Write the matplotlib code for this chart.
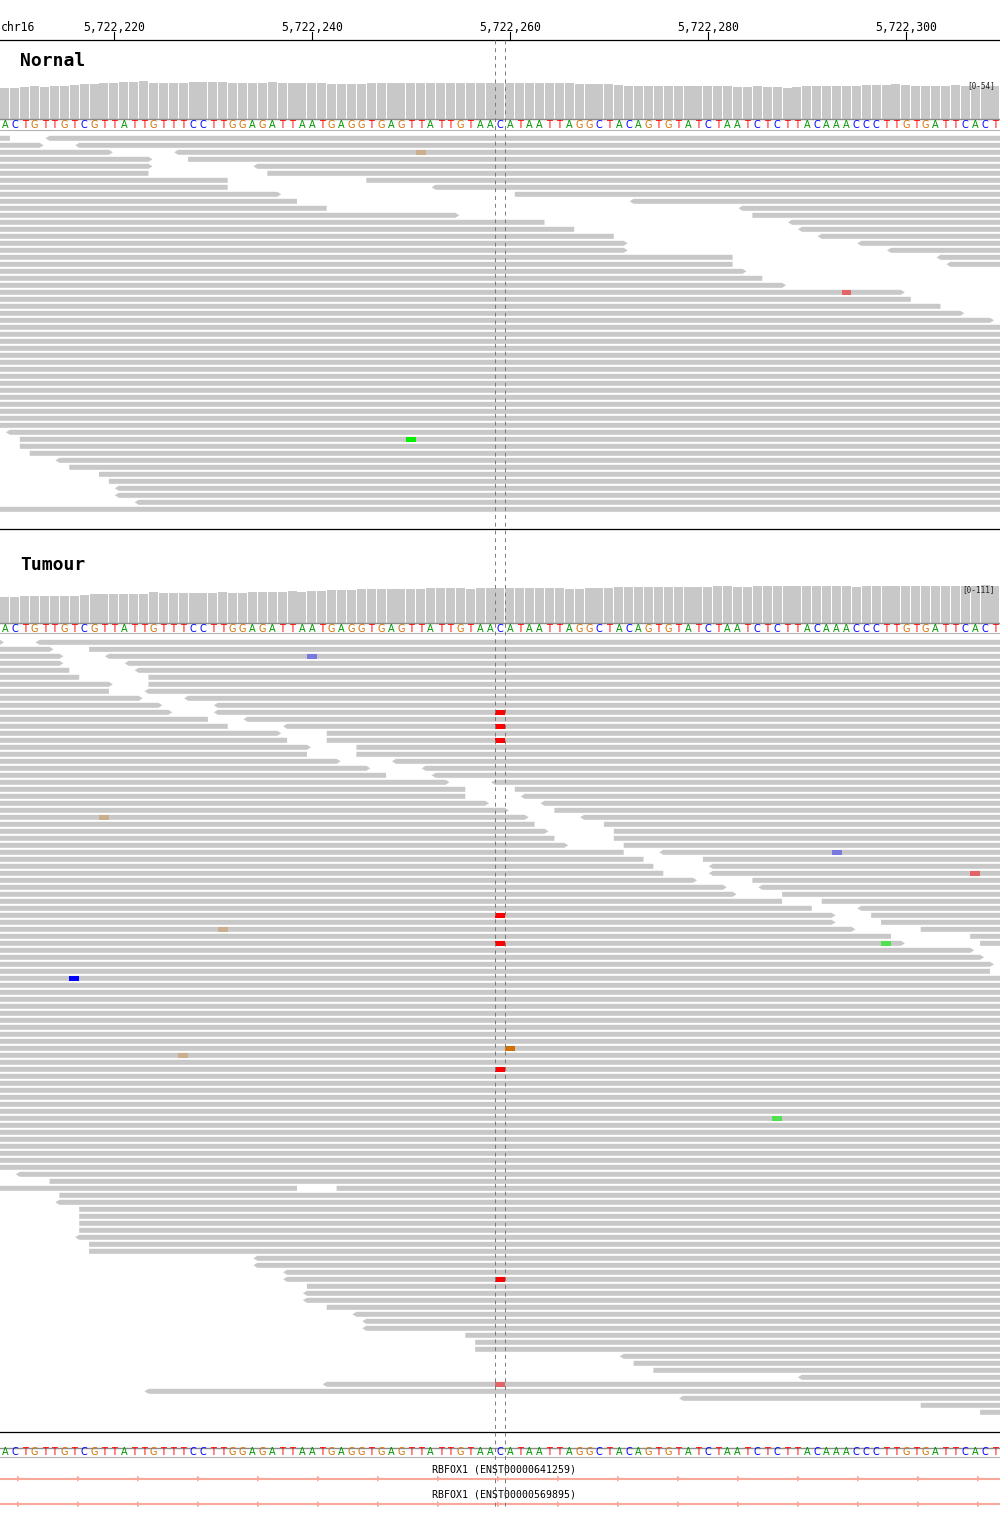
import matplotlib
matplotlib.use('Agg')
import matplotlib.pyplot as plt
from matplotlib.patches import Polygon
from matplotlib.collections import PatchCollection
from matplotlib.colors import to_rgb
import numpy as np

# ---------------------------------------------------------------- data
CHROM = 'chr16'
VIEW_START = 5722209          # genomic position of the first base in view
REF_SEQ = ('ACTGTTGTCGTTATTGTTTCCTTGGAGATTAATGAGGTGAGTTATTGTAAC'
           'ATAATTAGGCTACAGTGTATCTAATCTCTTACAAACCCTTGTGATTCACT')
TICK_POSITIONS = [5722220, 5722240, 5722260, 5722280, 5722300]
CENTER_POS = 5722259          # base framed by the dashed centre lines

NORMAL_LABEL = 'Nornal'
TUMOUR_LABEL = 'Tumour'
NORMAL_RANGE = 54
TUMOUR_RANGE = 111
GENE_NAMES = ['RBFOX1 (ENST00000641259)', 'RBFOX1 (ENST00000569895)']

# reads: one list per packed row; (first base offset, end offset (excl.), strand)
# offsets are relative to VIEW_START; -40 / 141 = read continues off-screen
L, R = -40, 141
FULL = [(L, R, '+')]
NORMAL_ROWS = [
    [(L, 1, '-'), (5, R, '-')],
    [(L, 4, '+'), (8, R, '-')],
    [(L, 11, '+'), (18, R, '-')],
    [(L, 15, '+'), (19, R, '+')],
    [(L, 15, '+'), (26, R, '-')],
    [(L, 15, '-'), (27, R, '+')],
    [(L, 23, '-'), (37, R, '+')],
    [(L, 23, '-'), (44, R, '-')],
    [(L, 28, '+'), (52, R, '+')],
    [(L, 30, '-'), (64, R, '-')],
    [(L, 33, '-'), (75, R, '-')],
    [(L, 46, '+'), (76, R, '+')],
    [(L, 55, '-'), (80, R, '-')],
    [(L, 58, '-'), (81, R, '-')],
    [(L, 62, '-'), (83, R, '-')],
    [(L, 63, '+'), (87, R, '-')],
    [(L, 63, '+'), (90, R, '-')],
    [(L, 74, '-'), (95, R, '-')],
    [(L, 74, '-'), (96, R, '-')],
    [(L, 75, '+')],
    [(L, 77, '-')],
    [(L, 79, '+')],
    [(L, 91, '+')],
    [(L, 92, '-')],
    [(L, 95, '-')],
    [(L, 97, '+')],
    [(L, 100, '+')],
] + [FULL] * 15 + [
    [(1, R, '-')],
    [(2, R, '+')],
    [(2, R, '+')],
    [(3, R, '+')],
    [(6, R, '-')],
    [(7, R, '+')],
    [(10, R, '+')],
    [(11, R, '+')],
    [(12, R, '-')],
    [(12, R, '-')],
    [(14, R, '-')],
    FULL,
]

TUMOUR_ROWS = [
    [(L, 0, '+'), (4, R, '-')],
    [(L, 5, '+'), (9, R, '+')],
    [(L, 6, '+'), (11, R, '-')],
    [(L, 6, '+'), (13, R, '-')],
    [(L, 7, '-'), (14, R, '-')],
    [(L, 8, '-'), (15, R, '+')],
    [(L, 11, '+'), (15, R, '+')],
    [(L, 11, '-'), (15, R, '-')],
    [(L, 14, '+'), (19, R, '-')],
    [(L, 16, '+'), (22, R, '-')],
    [(L, 17, '+'), (22, R, '-')],
    [(L, 21, '-'), (25, R, '-')],
    [(L, 23, '-'), (29, R, '-')],
    [(L, 28, '+'), (33, R, '+')],
    [(L, 29, '-'), (33, R, '+')],
    [(L, 31, '+'), (36, R, '+')],
    [(L, 31, '-'), (36, R, '+')],
    [(L, 34, '+'), (40, R, '-')],
    [(L, 37, '+'), (43, R, '-')],
    [(L, 39, '-'), (44, R, '-')],
    [(L, 45, '+'), (50, R, '-')],
    [(L, 47, '-'), (52, R, '+')],
    [(L, 47, '-'), (53, R, '-')],
    [(L, 49, '+'), (55, R, '-')],
    [(L, 51, '+'), (56, R, '+')],
    [(L, 53, '+'), (59, R, '-')],
    [(L, 54, '-'), (61, R, '+')],
    [(L, 55, '+'), (62, R, '+')],
    [(L, 56, '-'), (62, R, '+')],
    [(L, 57, '+'), (63, R, '+')],
    [(L, 63, '-'), (67, R, '-')],
    [(L, 65, '-'), (71, R, '+')],
    [(L, 66, '-'), (72, R, '-')],
    [(L, 67, '-'), (72, R, '-')],
    [(L, 70, '+'), (76, R, '+')],
    [(L, 73, '+'), (77, R, '-')],
    [(L, 74, '+'), (79, R, '+')],
    [(L, 79, '-'), (83, R, '+')],
    [(L, 82, '-'), (87, R, '-')],
    [(L, 84, '+'), (88, R, '+')],
    [(L, 84, '+'), (89, R, '+')],
    [(L, 86, '+'), (93, R, '+')],
    [(L, 90, '-'), (98, R, '+')],
    [(L, 91, '+'), (99, R, '+')],
    [(L, 98, '+')],
    [(L, 99, '+')],
    [(L, 100, '+')],
    [(L, 100, '-')],
] + [FULL] * 28 + [
    [(2, R, '-')],
    [(5, R, '+')],
    [(L, 30, '-'), (34, R, '+')],
    [(6, R, '+')],
    [(6, R, '-')],
    [(8, R, '+')],
    [(8, R, '+')],
    [(8, R, '+')],
    [(8, R, '+')],
    [(8, R, '-')],
    [(9, R, '+')],
    [(9, R, '+')],
    [(26, R, '-')],
    [(26, R, '-')],
    [(29, R, '-')],
    [(29, R, '-')],
    [(31, R, '+')],
    [(31, R, '-')],
    [(31, R, '-')],
    [(33, R, '+')],
    [(36, R, '-')],
    [(37, R, '-')],
    [(37, R, '-')],
    [(47, R, '+')],
    [(48, R, '+')],
    [(48, R, '+')],
    [(63, R, '-')],
    [(64, R, '+')],
    [(66, R, '+')],
    [(81, R, '-')],
    [(33, R, '-')],
    [(15, R, '-')],
    [(69, R, '-')],
    [(93, R, '+')],
    [(99, R, '+')],
]

# mismatches: (row, base offset, read base, base-quality weight 0..1)
NORMAL_MISMATCHES = [
    (2, 42, 'G', 0.3),
    (22, 85, 'T', 0.5),
    (43, 41, 'A', 1.0),
]
TUMOUR_MISMATCHES = [
    (2, 31, 'C', 0.4),
    (10, 50, 'T', 1.0),
    (12, 50, 'T', 1.0),
    (14, 50, 'T', 1.0),
    (25, 10, 'G', 0.3),
    (30, 84, 'C', 0.4),
    (33, 98, 'T', 0.5),
    (39, 50, 'T', 1.0),
    (41, 22, 'G', 0.3),
    (43, 50, 'T', 1.0),
    (43, 89, 'A', 0.6),
    (48, 7, 'C', 1.0),
    (58, 51, 'G', 1.0),
    (59, 18, 'G', 0.3),
    (61, 50, 'T', 1.0),
    (68, 78, 'A', 0.6),
    (91, 50, 'T', 1.0),
    (106, 50, 'T', 0.5),
]

# ---------------------------------------------------------------- style
W, H, DPI = 1000, 1528, 100
PX_PER_BP = 9.9
X0 = VIEW_START - 0.5
X1 = X0 + W / PX_PER_BP
SEQ_COLORS = {'A': '#009600', 'C': '#0000FF', 'G': '#D17105', 'T': '#FF0000'}
MM_COLORS = {'A': '#00F000', 'C': '#0000FF', 'G': '#D17105', 'T': '#FF0000'}
READ_GRAY = '#C8C8C8'
COV_GRAY = '#C8C8C8'
GENE_COLOR = '#F9A99B'
MONO = 'DejaVu Sans Mono'

fig = plt.figure(figsize=(W / DPI, H / DPI), dpi=DPI)


def add_axes(top, bottom):
    ax = fig.add_axes([0, 1 - bottom / H, 1, (bottom - top) / H])
    ax.set_xlim(X0, X1)
    ax.axis('off')
    ax.patch.set_alpha(0)
    return ax


def blend(base, w):
    c = np.array(to_rgb(MM_COLORS[base]))
    g = np.array(to_rgb(READ_GRAY))
    return tuple(w * c + (1 - w) * g)


def coverage(rows):
    cov = np.zeros(len(REF_SEQ))
    for row in rows:
        for s, e, _ in row:
            lo, hi = max(s, 0), min(e, len(REF_SEQ))
            if hi > lo:
                cov[lo:hi] += 1
    return cov


def draw_coverage(top, bottom, rows, rng):
    ax = add_axes(top, bottom)
    ax.set_ylim(0, rng)
    pos = VIEW_START + np.arange(len(REF_SEQ))
    ax.bar(pos, coverage(rows), width=0.9, color=COV_GRAY, linewidth=0)
    ax.text(X1 - 0.5, rng * 0.88, f'[0-{rng}]', ha='right', va='center',
            family=MONO, fontsize=5.6, color='#222222')


def draw_sequence(yc, top_line, bottom_line, ov):
    for i, b in enumerate(REF_SEQ):
        ov.text(VIEW_START + i, yc, b, ha='center', va='center',
                family='DejaVu Sans', fontsize=7, color=SEQ_COLORS[b])
    ov.axhline(top_line, color='#8C8C8C', lw=1.0)
    ov.axhline(bottom_line, color='#B4B4B4', lw=0.8)


def draw_reads(top, rows, mismatches):
    n = len(rows)
    ax = add_axes(top, top + 7 * n)
    ax.set_ylim(n, 0)
    h = 5 / 7
    tip = 4 / PX_PER_BP
    patches = []
    for k, row in enumerate(rows):
        yc = k + 0.5
        t, b = yc - h / 2, yc + h / 2
        for s, e, strand in row:
            x0, x1 = VIEW_START + s - 0.5, VIEW_START + e - 0.5
            if strand == '+':
                pts = [(x0, t), (x1, t), (x1 + tip, yc), (x1, b), (x0, b)]
            else:
                pts = [(x0 - tip, yc), (x0, t), (x1, t), (x1, b), (x0, b)]
            patches.append(Polygon(pts, closed=True))
    ax.add_collection(PatchCollection(patches, facecolor=READ_GRAY,
                                      edgecolor='none', linewidth=0))
    for k, off, base, w in mismatches:
        yc = k + 0.5
        ax.add_patch(plt.Rectangle((VIEW_START + off - 0.5, yc - h / 2), 1, h,
                                   facecolor=blend(base, w), edgecolor='none'))


# overlay in pixel y units
ov = add_axes(0, H)
ov.set_ylim(H, 0)
ov.set_zorder(10)

# ruler
for p in TICK_POSITIONS:
    ov.plot([p, p], [32, 39.5], color='black', lw=0.8)
    ov.text(p, 27.5, f'{p:,}', ha='center', va='center', family=MONO,
            fontsize=8.3, color='black')
ov.text(X0 + 0.1, 27.5, CHROM, ha='left', va='center', family=MONO,
        fontsize=8.3, color='black')
ov.axhline(39.5, color='black', lw=0.9)

# normal
fig.text(20 / W, 1 - 61 / H, NORMAL_LABEL, ha='left', va='center',
         family=MONO, fontweight='bold', fontsize=13)
draw_coverage(80.6, 118.6, NORMAL_ROWS, NORMAL_RANGE)
draw_sequence(125.5, 119.4, 129.8, ov)
draw_reads(134.8, NORMAL_ROWS, NORMAL_MISMATCHES)
ov.axhline(529.3, color='black', lw=0.9)

# tumour
fig.text(20 / W, 1 - 565 / H, TUMOUR_LABEL, ha='left', va='center',
         family=MONO, fontweight='bold', fontsize=13)
draw_coverage(584.6, 622.6, TUMOUR_ROWS, TUMOUR_RANGE)
draw_sequence(628.7, 622.9, 632.8, ov)
draw_reads(638.8, TUMOUR_ROWS, TUMOUR_MISMATCHES)
ov.axhline(1432.3, color='black', lw=0.9)

# reference sequence + genes
draw_sequence(1452.3, 1447.7, 1457.2, ov)
for name, ty, ly in zip(GENE_NAMES, [1469.3, 1494.6], [1478.7, 1504.2]):
    ov.text(X0 + 503.5 / PX_PER_BP, ty, name, ha='center', va='center',
            family=MONO, fontsize=7.1, color='black')
    ov.axhline(ly, color=GENE_COLOR, lw=1.5)
    tris = []
    for px in range(20, W, 60):
        xa = X0 + (px + 0.5) / PX_PER_BP
        tris.append(Polygon([(xa - 3.5 / PX_PER_BP, ly - 3.2), (xa, ly),
                             (xa - 3.5 / PX_PER_BP, ly + 3.2)], closed=True))
    ov.add_collection(PatchCollection(tris, facecolor=GENE_COLOR,
                                      edgecolor='none'))

# dashed centre-base frame
for xv in (CENTER_POS - 0.5, CENTER_POS + 0.5):
    ov.plot([xv, xv], [40, 1510], color='#7A7A7A', lw=0.7,
            linestyle=(0, (4, 4)))

fig.savefig('out.png', dpi=DPI)
